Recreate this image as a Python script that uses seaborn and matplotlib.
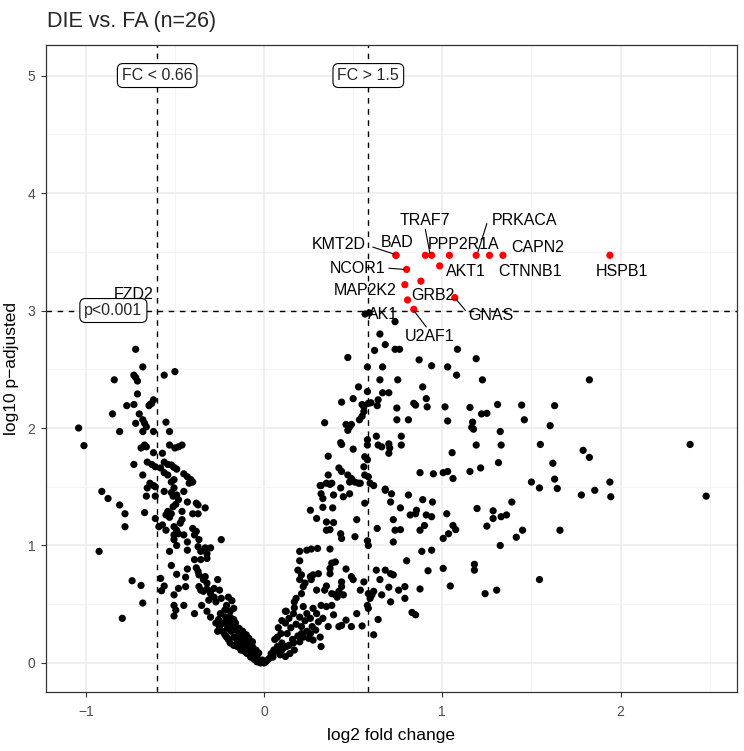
import matplotlib
matplotlib.use("Agg")
import matplotlib.pyplot as plt
import seaborn as sns
import pandas as pd
import numpy as np

# ---------------- data ----------------
ns_x = [
 -0.72,-0.68,-0.84,-0.73,-0.72,-0.71,-0.56,-0.50,-0.71,-0.77,-0.73,-0.645,-0.63,-0.62,-0.64,-0.85,-0.70,-0.68,-0.67,-0.66,
 -0.72,-0.55,-1.04,-0.81,-0.68,-0.62,-0.53,-1.01,-0.67,-0.66,-0.69,-0.53,-0.50,-0.48,-0.46,-0.62,-0.57,-0.73,-0.655,-0.63,
 -0.61,-0.58,-0.56,-0.54,-0.52,-0.505,-0.49,-0.68,-0.56,-0.54,-0.45,-0.43,-0.41,-0.40,-0.505,-0.52,-0.64,-0.62,-0.91,
 -0.875,-0.655,-0.61,-0.66,-0.61,-0.56,-0.52,-0.505,-0.49,-0.51,-0.48,-0.45,-0.42,-0.81,-0.78,-0.67,-0.43,-0.38,-0.37,-0.33,
 -0.51,-0.495,-0.54,-0.52,-0.55,-0.53,-0.46,-0.40,-0.37,-0.78,-0.61,-0.59,-0.57,-0.55,-0.505,-0.49,-0.47,-0.46,-0.48,-0.505,
 -0.45,-0.40,-0.38,-0.39,-0.365,-0.24,-0.505,-0.49,-0.43,-0.43,-0.925,-0.53,-0.37,-0.355,-0.33,-0.30,-0.32,-0.39,-0.355,-0.32,
 -0.52,-0.38,-0.37,-0.365,-0.43,-0.44,-0.49,-0.58,-0.74,-0.69,-0.33,-0.34,-0.26,-0.32,-0.56,-0.575,-0.48,-0.44,-0.505,-0.365,
 -0.355,-0.34,-0.32,-0.30,-0.28,-0.25,-0.68,-0.505,-0.495,-0.505,-0.45,-0.35,-0.31,-0.28,-0.30,-0.27,-0.24,-0.20,-0.18,-0.21,
 -0.22,-0.19,-0.17,-0.19,-0.21,-0.17,-0.39,-0.32,-0.30,-0.795,
 -0.27,-0.25,-0.26,-0.235,-0.22,-0.21,-0.20,-0.19,-0.17,-0.15,-0.13,-0.11,-0.095,-0.075,-0.055,-0.04,-0.02,0.0,
 -0.245,-0.215,-0.195,-0.18,-0.16,-0.14,-0.12,-0.10,-0.085,-0.065,-0.045,-0.225,-0.205,-0.185,-0.17,-0.15,-0.13,-0.11,-0.095,
 -0.075,-0.055,-0.04,-0.255,-0.23,-0.18,-0.16,-0.14,-0.12,-0.10,-0.085,-0.065,-0.03,-0.01,0.01,0.03,0.045,0.065,
 0.125,0.12,0.095,0.075,0.055,0.04,0.075,0.10,0.02,
 0.12,0.165,0.20,0.24,0.275,0.295,0.32,0.35,0.38,0.39,0.33,0.305,0.27,0.24,0.21,0.315,0.32,0.275,0.25,0.20,0.165,0.125,
 0.10,0.09,0.12,0.145,0.17,
 0.05,0.08,0.11,0.14,0.16,0.19,0.22,0.26,0.29,0.13,0.15,0.18,0.21,0.23,0.26,0.14,0.17,0.22,0.08,0.06,0.10,
 0.567,0.59,0.735,0.65,0.68,0.735,0.76,0.62,0.47,0.87,0.94,1.03,1.085,1.19,0.58,0.665,1.08,0.65,0.75,1.225,0.53,0.89,
 0.58,0.665,0.70,0.435,0.50,0.55,0.56,0.585,0.60,0.64,0.635,0.56,0.55,0.535,0.91,0.915,0.84,0.85,0.745,1.015,1.155,1.31,
 1.22,1.25,0.745,0.81,1.03,1.17,1.165,1.175,1.325,0.34,0.46,0.48,0.47,0.49,0.43,0.435,0.58,0.58,0.63,0.64,0.66,0.70,
 0.705,0.70,0.77,0.77,0.50,1.19,1.33,1.055,0.36,0.565,0.58,0.56,1.315,1.215,1.155,0.875,0.95,1.005,1.03,1.06,0.42,0.435,
 0.36,0.35,0.315,0.38,0.47,0.49,0.51,0.53,0.565,0.585,0.595,0.615,0.68,
 0.32,0.37,0.43,0.48,0.54,0.32,0.33,0.39,0.445,0.48,0.33,0.385,0.26,0.295,0.35,0.39,0.35,0.37,0.43,0.435,0.52,0.51,0.565,
 0.68,0.715,0.71,0.765,0.81,0.855,0.82,0.85,0.89,0.945,0.91,0.94,0.90,0.875,0.635,0.725,0.735,0.765,0.725,0.58,0.585,
 1.025,1.06,1.075,1.035,1.005,1.195,1.285,1.285,1.33,1.25,1.325,
 0.20,0.24,0.265,0.30,0.37,0.20,0.19,0.21,0.20,0.23,0.22,0.21,0.18,0.17,0.26,0.275,0.305,0.265,0.295,0.34,0.37,0.38,0.40,
 0.37,0.46,0.49,0.50,0.435,0.435,0.42,0.40,0.445,0.35,0.38,0.41,0.54,0.56,0.585,0.595,0.615,0.605,0.63,0.65,0.68,0.71,
 0.725,0.70,0.66,0.71,0.755,0.79,0.79,0.80,0.875,0.92,1.005,1.045,1.18,1.18,1.24,1.305,0.885,0.94,0.83,0.85,0.64,0.615,
 0.585,0.58,0.55,0.52,0.49,0.46,0.435,0.42,0.36,
 1.825,1.445,1.63,1.46,1.605,1.55,2.39,1.79,1.825,1.62,1.63,1.50,1.545,1.645,1.94,1.855,1.78,1.945,2.48,1.39,1.36,1.45,
 1.415,1.66,1.545,
]
ns_y = [
 2.67,2.52,2.41,2.45,2.43,2.40,2.45,2.48,2.29,2.19,2.20,2.19,2.21,2.24,2.20,2.12,2.12,2.07,2.04,2.01,
 2.04,2.05,2.00,1.97,1.97,1.97,1.97,1.85,1.855,1.84,1.83,1.855,1.83,1.84,1.855,1.79,1.785,1.69,1.71,1.69,
 1.67,1.66,1.71,1.69,1.685,1.665,1.65,1.60,1.62,1.60,1.61,1.585,1.56,1.54,1.56,1.54,1.53,1.51,1.46,
 1.40,1.49,1.50,1.42,1.42,1.46,1.45,1.49,1.43,1.42,1.39,1.46,1.53,1.345,1.27,1.28,1.37,1.36,1.345,1.32,
 1.33,1.35,1.29,1.27,1.26,1.24,1.29,1.27,1.27,1.16,1.23,1.16,1.175,1.13,1.16,1.13,1.19,1.22,1.10,1.09,
 1.09,1.145,1.12,1.09,1.05,1.05,1.05,1.00,1.03,0.96,0.95,0.95,0.99,0.95,0.98,0.98,0.93,0.88,0.88,0.89,
 0.83,0.81,0.78,0.75,0.80,0.73,0.755,0.72,0.70,0.66,0.735,0.71,0.71,0.68,0.655,0.615,0.635,0.65,0.58,0.65,
 0.62,0.61,0.63,0.61,0.635,0.62,0.51,0.49,0.45,0.40,0.49,0.49,0.535,0.56,0.59,0.52,0.55,0.56,0.53,0.49,
 0.45,0.44,0.465,0.39,0.37,0.37,0.42,0.44,0.39,0.38,
 0.34,0.31,0.27,0.27,0.24,0.22,0.20,0.17,0.15,0.14,0.11,0.10,0.08,0.05,0.03,0.01,0.0,0.0,
 0.42,0.39,0.34,0.31,0.28,0.25,0.22,0.195,0.17,0.14,0.11,0.34,0.295,0.27,0.22,0.195,0.17,0.14,0.125,
 0.10,0.07,0.055,0.37,0.34,0.37,0.34,0.295,0.27,0.24,0.21,0.18,0.085,0.025,0.01,0.04,0.07,0.10,
 0.44,0.34,0.25,0.22,0.11,0.08,0.14,0.17,0.025,
 0.44,0.42,0.39,0.42,0.465,0.42,0.49,0.48,0.49,0.41,0.38,0.35,0.31,0.27,0.25,0.22,0.14,0.195,0.21,0.18,0.17,0.14,
 0.11,0.07,0.055,0.08,0.11,
 0.05,0.09,0.13,0.15,0.20,0.23,0.22,0.25,0.28,0.25,0.30,0.33,0.31,0.36,0.38,0.38,0.47,0.48,0.30,0.20,0.36,
 2.97,2.98,2.905,2.80,2.71,2.67,2.67,2.66,2.60,2.58,2.53,2.52,2.67,2.59,2.52,2.52,2.45,2.41,2.41,2.41,2.35,2.35,
 2.31,2.30,2.30,2.22,2.25,2.20,2.18,2.21,2.215,2.24,2.19,2.14,2.10,2.07,2.25,2.18,2.21,2.195,2.17,2.18,2.175,2.20,
 2.12,2.125,2.07,2.07,2.06,2.05,2.005,1.99,1.97,2.045,2.03,2.01,1.98,2.03,1.875,1.86,1.90,1.855,1.93,1.855,1.84,1.865,
 1.83,1.785,1.93,1.855,1.82,1.855,1.855,1.79,1.76,1.755,1.73,1.67,1.705,1.66,1.63,1.62,1.61,1.62,1.63,1.57,1.66,1.63,
 1.60,1.53,1.51,1.53,1.60,1.57,1.54,1.53,1.60,1.585,1.53,1.51,1.48,
 1.51,1.52,1.49,1.54,1.53,1.44,1.40,1.43,1.415,1.44,1.325,1.32,1.30,1.23,1.20,1.195,1.13,1.135,1.10,1.06,1.22,1.075,1.36,
 1.47,1.44,1.37,1.32,1.43,1.30,1.26,1.27,1.39,1.37,1.26,1.245,1.17,1.13,1.145,1.22,1.13,1.135,1.03,1.04,1.00,
 1.27,1.17,1.135,1.10,1.06,1.315,1.295,1.23,1.245,1.165,1.00,
 0.95,0.96,0.97,0.975,0.97,0.87,0.79,0.75,0.71,0.68,0.65,0.59,0.55,0.52,0.735,0.75,0.76,0.71,0.62,0.62,0.76,0.85,0.86,
 0.805,0.80,0.735,0.71,0.69,0.65,0.61,0.58,0.58,0.655,0.59,0.56,0.62,0.69,0.59,0.55,0.61,0.58,0.79,0.71,0.79,0.76,
 0.75,0.645,0.58,0.52,0.62,0.65,0.55,0.87,0.63,0.785,0.805,0.655,0.84,0.79,0.59,0.62,0.95,0.96,0.43,0.41,0.37,0.24,
 0.465,0.49,0.315,0.42,0.31,0.365,0.32,0.31,0.31,
 2.41,2.195,2.19,2.07,2.02,1.86,1.86,1.81,1.75,1.70,1.565,1.54,1.49,1.485,1.54,1.47,1.43,1.415,1.42,1.37,1.26,1.13,
 1.07,1.13,0.71,
]

sig_x = [0.74, 0.74, 0.905, 0.94, 1.04, 1.19, 1.265, 1.34, 1.94, 0.80, 0.985, 0.79, 0.88, 0.805, 1.07, 0.84]
sig_y = [3.47, 3.47, 3.47, 3.47, 3.47, 3.47, 3.47, 3.47, 3.47, 3.35, 3.38, 3.22, 3.25, 3.09, 3.11, 3.01]

gene_names = ["KMT2D", "BAD", "TRAF7", "PRKACA", "PPP2R1A", "CAPN2", "NCOR1", "AKT1",
              "CTNNB1", "HSPB1", "MAP2K2", "GRB2", "GNAS", "AK1", "U2AF1", "FZD2"]

fc_cut = [np.log2(0.66), np.log2(1.5)]
p_cut = 3.0

# ---------------- layout of labels ----------------
label_pos = {
    "KMT2D": (0.42, 3.56), "BAD": (0.745, 3.575), "TRAF7": (0.905, 3.77),
    "PRKACA": (1.46, 3.77), "PPP2R1A": (1.12, 3.565), "CAPN2": (1.535, 3.535),
    "NCOR1": (0.525, 3.36), "AKT1": (1.13, 3.335), "CTNNB1": (1.49, 3.335),
    "HSPB1": (2.01, 3.335), "MAP2K2": (0.565, 3.17), "GRB2": (0.95, 3.125),
    "GNAS": (1.27, 2.96), "AK1": (0.67, 2.965), "U2AF1": (0.93, 2.78),
    "FZD2": (-0.73, 3.14),
}
segments = [((0.61, 3.54), (0.73, 3.48)), ((0.905, 3.69), (0.93, 3.49)),
            ((1.25, 3.74), (1.20, 3.50)), ((0.70, 3.36), (0.785, 3.35)),
            ((1.13, 3.00), (1.075, 3.10)), ((0.91, 2.86), (0.84, 3.0))]

df = pd.DataFrame({
    "log2fc": ns_x + sig_x,
    "log10padj": ns_y + sig_y,
    "sig": ["no"] * len(ns_x) + ["yes"] * len(sig_x),
})

sns.set_theme(style="white")
plt.rcParams["font.family"] = ["Liberation Sans", "DejaVu Sans"]

fig = plt.figure(figsize=(7.44, 7.51), dpi=100)
ax = fig.add_axes([46 / 744, 59 / 751, 691 / 744, 647 / 751])
ax.set_facecolor("white")

# grid
ax.set_xticks([-1, 0, 1, 2])
ax.set_yticks([0, 1, 2, 3, 4, 5])
ax.set_xticks([-0.5, 0.5, 1.5, 2.5], minor=True)
ax.set_yticks([0.5, 1.5, 2.5, 3.5, 4.5], minor=True)
ax.grid(True, which="major", color="#EBEBEB", linewidth=1.1, zorder=0)
ax.grid(True, which="minor", color="#F2F2F2", linewidth=0.6, zorder=0)
ax.set_axisbelow(True)

# threshold lines
for v in fc_cut:
    ax.axvline(v, color="black", linestyle=(0, (4, 4)), linewidth=1.0, zorder=1)
ax.axhline(p_cut, color="black", linestyle=(0, (4, 4)), linewidth=1.0, zorder=1)

sns.scatterplot(data=df, x="log2fc", y="log10padj", hue="sig",
                palette={"no": "black", "yes": "#FF0000"}, s=27, linewidth=0,
                legend=False, ax=ax, zorder=3)

# labels
for g in gene_names:
    tx, ty = label_pos[g]
    ax.text(tx, ty, g, ha="center", va="center", fontsize=11.5, color="black", zorder=5)
for (a, b) in segments:
    ax.plot([a[0], b[0]], [a[1], b[1]], color="black", linewidth=0.8, zorder=4)

box = dict(boxstyle="round,pad=0.28,rounding_size=0.35", fc="white", ec="black", lw=0.8)
ax.text(fc_cut[0], 5.0, "FC < 0.66", ha="center", va="center", fontsize=11.5, bbox=box, zorder=6)
ax.text(fc_cut[1], 5.0, "FC > 1.5", ha="center", va="center", fontsize=11.5, bbox=box, zorder=6)
ax.text(-0.845, p_cut, "p<0.001", ha="center", va="center", fontsize=11.5, bbox=box, zorder=6)

ax.set_xlim(-1.223, 2.653)
ax.set_ylim(-0.247, 5.26)
ax.set_xticklabels(["\u22121", "0", "1", "2"])
ax.tick_params(axis="both", which="major", length=3.5, width=0.8, color="#333333",
               labelcolor="#4D4D4D", labelsize=10, bottom=True, left=True, pad=4)
ax.tick_params(axis="x", which="major", pad=6)
ax.tick_params(axis="both", which="minor", length=0)
for sp in ax.spines.values():
    sp.set_color("#333333")
    sp.set_linewidth(0.9)

ax.set_xlabel("log2 fold change", fontsize=12.5, color="black", labelpad=6)
ax.set_ylabel("log10 p\u2212adjusted", fontsize=12.5, color="black", labelpad=6)
fig.text(47 / 744, 1 - 22 / 751, "DIE vs. FA (n=26)", fontsize=15.5, ha="left", va="center")

fig.savefig("out.png", dpi=100)
